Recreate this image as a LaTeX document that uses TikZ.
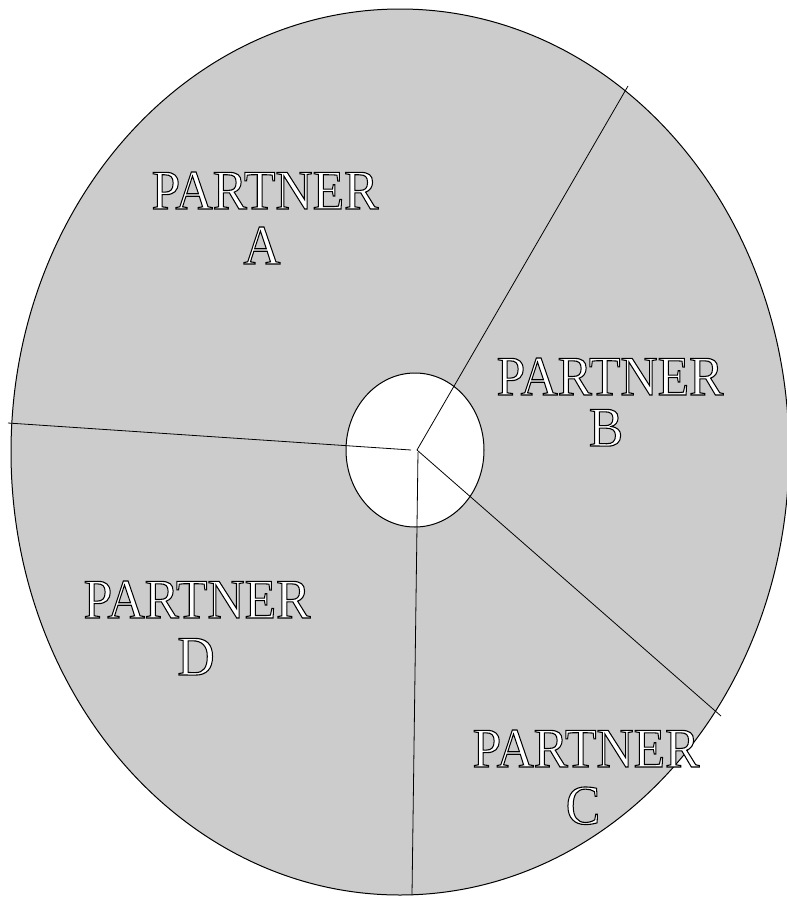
\documentclass[tikz,border=0pt]{standalone}
\usepackage{fontspec}
\setmainfont{Liberation Serif}
\newcommand{\outltext}[1]{\scalebox{0.92}[1]{\textcolor{white}{\special{pdf:literal direct 2 Tr 1.1 w 0 G}#1\special{pdf:literal direct 0 Tr}}}}
\definecolor{stip}{gray}{0.80}
\begin{document}
\begin{tikzpicture}[x=1pt,y=-1pt,
  ptext/.style={inner sep=0pt, anchor=base, font=\fontsize{56}{56}\selectfont},
  divider/.style={draw=black, line width=0.8pt},
  rim/.style={draw=black, line width=1pt}]
\useasboundingbox (0,0) rectangle (787,897);
\clip (0,0) rectangle (787,897);
% outer disc
\path[rim, fill=stip] (400,452) ellipse [x radius=389, y radius=443];
% hub
\path[rim, fill=white] (415,450) ellipse [x radius=69, y radius=77];
% end points
\coordinate (ctr) at (417,450);
\coordinate (ctrL) at (411,450);
\coordinate (ctrV) at (418,452);
\coordinate (eL) at (8,423);
\coordinate (eUR) at (628,86);
\coordinate (eLR) at (721,716);
\coordinate (eB) at (412,895);
\draw[divider] (ctrL) -- (eL);
\draw[divider] (ctr) -- (eUR);
\draw[divider] (ctr) -- (eLR);
\draw[divider] (ctrV) -- (eB);
% labels
\node[ptext] (a1) at (265,209) {\outltext{PARTNER}};
\node[ptext] (a2) at (262,264) {\outltext{A}};
\node[ptext] (b1) at (610,395) {\outltext{PARTNER}};
\node[ptext] (b2) at (606,446) {\outltext{B}};
\node[ptext] (d1) at (197,618) {\outltext{PARTNER}};
\node[ptext] (d2) at (196,675) {\outltext{D}};
\node[ptext] (c1) at (586,767) {\outltext{PARTNER}};
\node[ptext] (c2) at (583,824) {\outltext{C}};
\end{tikzpicture}
\end{document}
